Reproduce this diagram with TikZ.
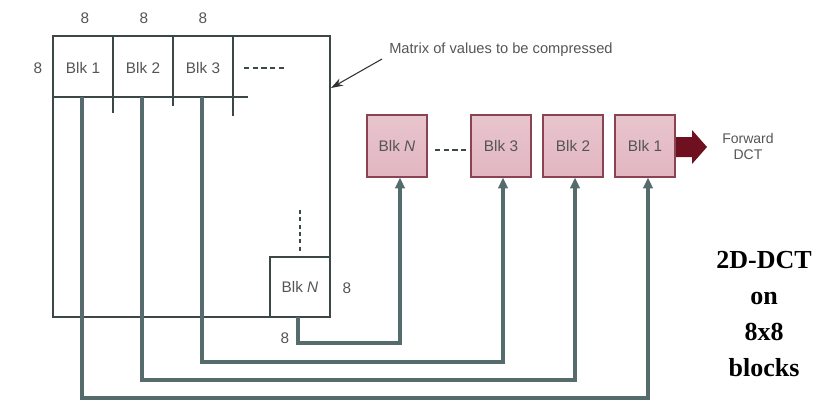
\documentclass[tikz,border=0pt]{standalone}
\usepackage{fontspec}
\setmainfont{Liberation Sans}
\newfontfamily\serifbold{Liberation Serif}
\usetikzlibrary{arrows.meta}
\definecolor{txtgrey}{HTML}{555555}
\definecolor{linegrey}{HTML}{3C4848}
\definecolor{conn}{HTML}{566C6C}
\definecolor{pinkfill}{HTML}{E2B6C1}
\definecolor{pinkedge}{HTML}{8A4352}
\definecolor{maroon}{HTML}{6E1020}
\tikzset{
  lbl/.style={text=txtgrey, font=\fontsize{11.5}{13}\selectfont, inner sep=0pt},
  frame/.style={draw=linegrey, line width=0.9pt},
  connector/.style={draw=conn, line width=2.5pt, -{Triangle[length=8pt,width=7pt]}},
  pinkbox/.style={draw=pinkedge, line width=0.9pt, top color=pinkfill!80, bottom color=pinkfill,
     minimum width=45pt, minimum height=46.5pt, inner sep=0pt, text=txtgrey,
     font=\fontsize{11.5}{13}\selectfont},
  smallbox/.style={draw=linegrey, line width=0.9pt, minimum width=45pt, minimum height=45pt, inner sep=0pt,
     text=txtgrey, font=\fontsize{11.5}{13}\selectfont},
  bigtext/.style={font=\serifbold\bfseries\fontsize{19.5}{27}\selectfont, text=black, inner sep=0pt},
}
\begin{document}
\begin{tikzpicture}[x=0.75pt,y=-0.75pt]
\useasboundingbox (0,0) rectangle (817,401);
% matrix frame
\coordinate (mtl) at (53,36);
\coordinate (mbr) at (330,317);
\draw[frame] (mtl) rectangle (mbr);
% block row
\draw[frame] (53,97) -- (248,97);
\draw[frame] (113,36) -- (113,113);
\draw[frame] (173,36) -- (173,106);
\draw[frame] (233,36) -- (233,116);
\node[lbl] (b1) at (83,68) {Blk 1};
\node[lbl] (b2) at (143,68) {Blk 2};
\node[lbl] (b3) at (203,68) {Blk 3};
\draw[linegrey, line width=0.8pt, dash pattern=on 4pt off 2.5pt] (244,68) -- (284,68);
% size labels
\node[lbl] (t1) at (85,18) {8};
\node[lbl] (t2) at (144,18) {8};
\node[lbl] (t3) at (203,18) {8};
\node[lbl] (l1) at (38,68) {8};
% block N inside matrix
\node[smallbox] (bn) at (300,287) {Blk \textit{N}};
\node[lbl] (bnr) at (347,288) {8};
\node[lbl] (bnb) at (285,338) {8};
\draw[linegrey, line width=0.8pt, dash pattern=on 3pt off 2.5pt] (300,210) -- (300,252);
% annotation
\node[lbl, anchor=west, font=\fontsize{11}{12}\selectfont] (ann) at (389,50) {Matrix of values to be compressed};
\coordinate (annstart) at (382,59);
\coordinate (annend) at (331,88);
\draw[black!80, line width=0.8pt, -{Stealth[length=9pt,width=6pt]}] (annstart) -- (annend);
% pink boxes
\node[pinkbox] (pN) at (397,146) {Blk \textit{N}};
\node[pinkbox] (p3) at (501,146) {Blk 3};
\node[pinkbox] (p2) at (573,146) {Blk 2};
\node[pinkbox] (p1) at (645,146) {Blk 1};
\coordinate (dN) at (435,150);
\coordinate (d3) at (467,150);
\draw[linegrey, line width=0.8pt, dash pattern=on 4pt off 2.5pt] (dN) -- (d3);
% big arrow
\fill[maroon] (676,137) -- (692,137) -- (692,130) -- (707,147) -- (692,164) -- (692,157) -- (676,157) -- cycle;
\node[lbl, align=center, font=\fontsize{10.5}{12}\selectfont] (fwd) at (748,146) {Forward\\DCT};
% connectors
\coordinate (c1) at (82,97);
\coordinate (c2) at (142,97);
\coordinate (c3) at (202,97);
\coordinate (cN) at (298,317);
\coordinate (r1) at (648,398);
\coordinate (r2) at (575,380);
\coordinate (r3) at (503,362);
\coordinate (rN) at (400,343);
\draw[connector] (c1) |- (r1) -- (p1.south -| r1);
\draw[connector] (c2) |- (r2) -- (p2.south -| r2);
\draw[connector] (c3) |- (r3) -- (p3.south -| r3);
\draw[connector] (cN) |- (rN) -- (pN.south -| rN);
% right text
\node[bigtext, align=center] (title) at (764,314) {2D-DCT\\on\\8x8\\blocks};
\end{tikzpicture}
\end{document}
